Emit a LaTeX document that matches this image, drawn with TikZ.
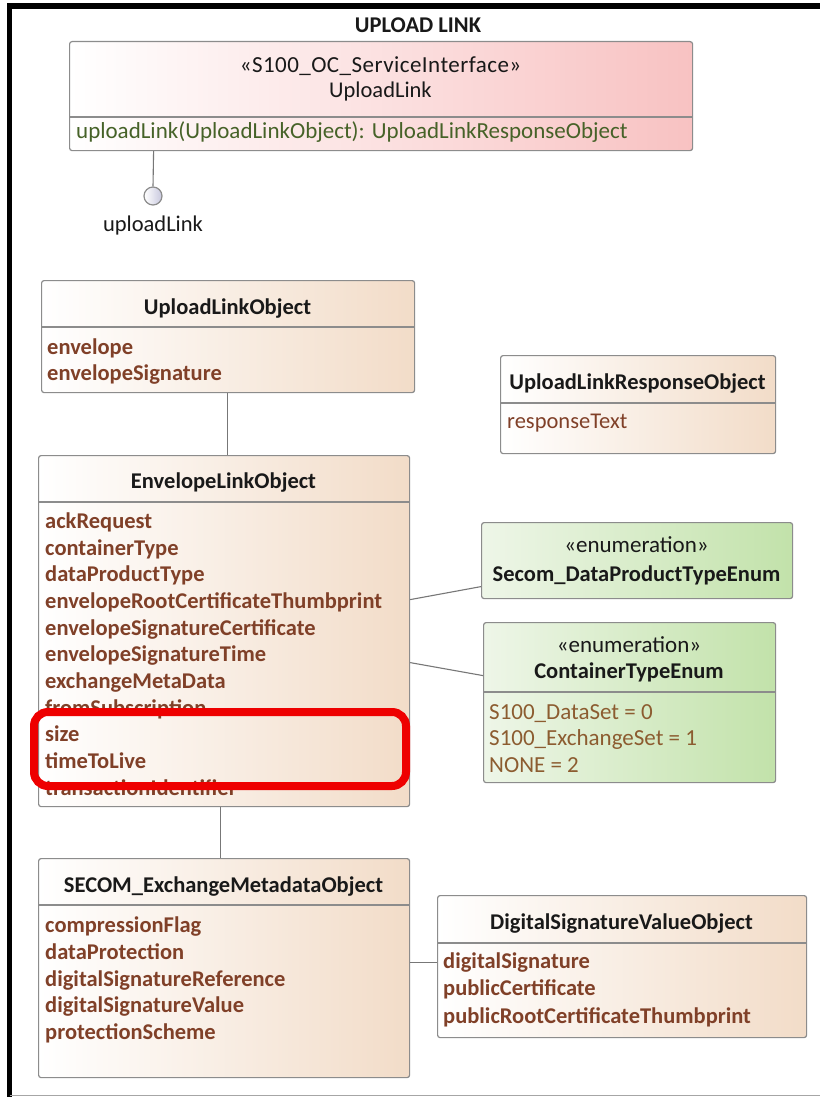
\documentclass[tikz,border=0pt]{standalone}
\usepackage{fontspec}
\setmainfont{Carlito}
\usetikzlibrary{calc}
\definecolor{attrc}{RGB}{128,64,40}
\definecolor{litc}{RGB}{140,92,48}
\definecolor{opc}{RGB}{70,98,40}
\definecolor{namec}{RGB}{25,25,25}
\definecolor{peach}{RGB}{242,220,200}
\definecolor{pinkr}{RGB}{248,194,194}
\definecolor{greenl}{RGB}{238,246,232}
\definecolor{greenr}{RGB}{194,226,170}
\definecolor{bordc}{RGB}{140,140,140}
\definecolor{lav}{RGB}{200,200,222}
\definecolor{hl}{RGB}{238,0,0}
\newcommand{\fsz}{\fontsize{22.5}{26}\selectfont}
\newcommand{\fszo}{\fontsize{23}{26}\selectfont}
\begin{document}
\begin{tikzpicture}[x=1pt,y=1pt,
  box/.style={draw=bordc, line width=1.2pt, rounded corners=2.5pt, anchor=north west, inner sep=0pt},
  cls/.style={box, left color=white, right color=peach},
  iface/.style={box, left color=white, right color=pinkr},
  enm/.style={box, left color=greenl, right color=greenr},
  sepline/.style={draw=bordc, line width=1.2pt},
  conn/.style={draw=bordc!85!black, line width=1.1pt},
  txt/.style={inner sep=0pt, text height=17pt, text depth=2pt, font=\fsz},
  namebold/.style={txt, text=namec, font=\fsz\bfseries},
  namereg/.style={txt, text=namec},
  stereo/.style={txt, text=namec, font=\fszo},
  attrb/.style={txt, anchor=west, text=attrc, font=\fsz\bfseries},
  attrr/.style={txt, anchor=west, text=attrc},
  lit/.style={txt, anchor=west, text=litc, font=\fszo},
  op/.style={txt, anchor=west, text=opc, font=\fszo}]
\useasboundingbox (0,0) rectangle (820,-1097);
\fill[white] (0,0) rectangle (820,-1097);

% frame
\draw[black, line width=5pt] (9.5,-1097) -- (9.5,-3.5);
\draw[black, line width=6pt] (7,-6) -- (820,-6);
\draw[gray!70, line width=1.5pt] (9.5,-1095.5) -- (820,-1095.5);
\node[namebold] (ttl) at (418,-25) {UPLOAD LINK};

% interface
\node[iface, minimum width=623pt, minimum height=109pt] (ifc) at (69,-41) {};
\draw[sepline] ([yshift=-76pt]ifc.north west) -- ([yshift=-76pt]ifc.north east);
\node[stereo, font=\fszo\addfontfeature{LetterSpace=2}] (ifcst) at (380.5,-65) {«S100\_OC\_ServiceInterface»};
\node[namereg] (ifcnm) at (380.5,-90) {UploadLink};
\node[op] (ifcop) at (76,-131) {uploadLink(UploadLinkObject): UploadLinkResponseObject};
\node[circle, draw=bordc, line width=1.2pt, minimum size=18pt, inner sep=0pt, left color=white, right color=lav] (lol) at (153,-196) {};
\node[namereg] (lolt) at (153,-224) {uploadLink};

% UploadLinkObject
\node[cls, minimum width=373pt, minimum height=112pt] (ulo) at (41,-280) {};
\draw[sepline] ([yshift=-47pt]ulo.north west) -- ([yshift=-47pt]ulo.north east);
\node[namebold] (ulot) at (227.5,-307) {UploadLinkObject};
\node[attrb] (ulo1) at (47,-347) {envelope};
\node[attrb] (ulo2) at (47,-373) {envelopeSignature};

% UploadLinkResponseObject
\node[cls, minimum width=275pt, minimum height=98pt] (ulr) at (500,-355) {};
\draw[sepline] ([yshift=-48pt]ulr.north west) -- ([yshift=-48pt]ulr.north east);
\node[namebold] (ulrt) at (637.5,-382) {UploadLinkResponseObject};
\node[attrr] (ulr1) at (507,-421) {responseText};

% EnvelopeLinkObject
\node[cls, minimum width=371pt, minimum height=351pt] (elo) at (38,-455) {};
\draw[sepline] ([yshift=-47pt]elo.north west) -- ([yshift=-47pt]elo.north east);
\node[namebold] (elot) at (223.5,-481) {EnvelopeLinkObject};
\foreach \t [count=\i from 0] in {ackRequest,containerType,dataProductType,envelopeRootCertificateThumbprint,envelopeSignatureCertificate,envelopeSignatureTime,exchangeMetaData,fromSubscription,size,timeToLive,transactionIdentifier}
  \node[attrb] (elo-a\i) at (45,-521-26.65*\i) {\t};

% enumerations
\node[enm, minimum width=311pt, minimum height=76pt] (en1) at (481,-522) {};
\node[stereo] (en1s) at (636.5,-545) {«enumeration»};
\node[namebold] (en1n) at (636.5,-574) {Secom\_DataProductTypeEnum};

\node[enm, minimum width=292pt, minimum height=160pt] (en2) at (483,-622) {};
\draw[sepline] ([yshift=-70pt]en2.north west) -- ([yshift=-70pt]en2.north east);
\node[stereo] (en2s) at (629,-645) {«enumeration»};
\node[namebold] (en2n) at (629,-671) {ContainerTypeEnum};
\node[lit] (en2a) at (489,-712) {S100\_DataSet = 0};
\node[lit] (en2b) at (489,-738) {S100\_ExchangeSet = 1};
\node[lit] (en2c) at (489,-765) {NONE = 2};

% SECOM_ExchangeMetadataObject
\node[cls, minimum width=371pt, minimum height=219pt] (sec) at (38,-858) {};
\draw[sepline] ([yshift=-47pt]sec.north west) -- ([yshift=-47pt]sec.north east);
\node[namebold] (sect) at (223.5,-885) {SECOM\_ExchangeMetadataObject};
\foreach \t [count=\i from 0] in {compressionFlag,dataProtection,digitalSignatureReference,digitalSignatureValue,protectionScheme}
  \node[attrb] (sec-a\i) at (45,-925-26.8*\i) {\t};

% DigitalSignatureValueObject
\node[cls, minimum width=369pt, minimum height=142pt] (dsv) at (437,-895) {};
\draw[sepline] ([yshift=-48pt]dsv.north west) -- ([yshift=-48pt]dsv.north east);
\node[namebold] (dsvt) at (621.5,-922) {DigitalSignatureValueObject};
\node[attrb] (dsv1) at (443,-961) {digitalSignature};
\node[attrb] (dsv2) at (443,-988) {publicCertificate};
\node[attrb] (dsv3) at (443,-1016) {publicRootCertificateThumbprint};

% connectors
\draw[conn] ([xshift=-227.5pt]ifc.south) -- (lol.north);
\draw[conn] ([xshift=-0.5pt]ulo.south) -- ([xshift=3.5pt]elo.north);
\draw[conn] ([yshift=31.5pt]elo.east) -- ([yshift=-26pt]en1.west);
\draw[conn] ([yshift=-31.5pt]elo.east) -- ([yshift=27pt]en2.west);
\draw[conn] ([xshift=-3.5pt]elo.south) -- ([xshift=-3.5pt]sec.north);
\draw[conn] ([yshift=5.5pt]sec.east) -- ([yshift=4pt]dsv.west);

% highlight
\draw[hl, line width=8pt, rounded corners=14pt] (34,-712) rectangle (406,-786);
\end{tikzpicture}
\end{document}
